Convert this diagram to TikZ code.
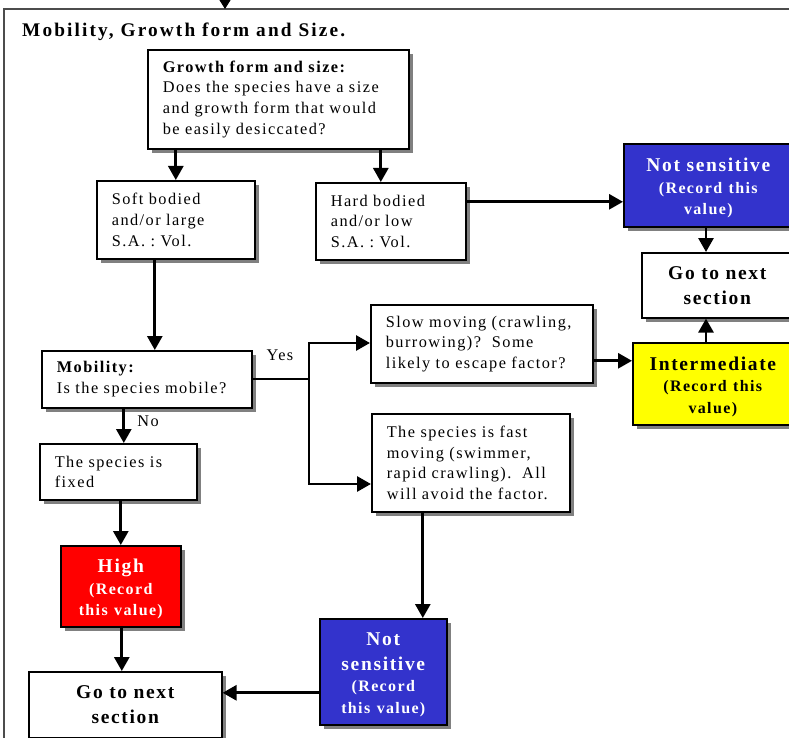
\documentclass[tikz,border=0pt]{standalone}
\usepackage{fontspec}
\setmainfont{Liberation Serif}[LetterSpace=9]
\newfontfamily\titlefam{Liberation Serif}[LetterSpace=11]
\newfontfamily\boldfam{Liberation Serif}[LetterSpace=8.5]
\usetikzlibrary{shadows,arrows.meta}

\newcommand\bodytext{\frenchspacing\fontsize{16.3}{20.6}\selectfont}
\newcommand\titletext{\titlefam\bfseries\fontsize{19.3}{22}\selectfont}
\newcommand\bigbold{\boldfam\bfseries\fontsize{19.5}{25}\selectfont}
\newcommand\smallbold{\boldfam\bfseries\fontsize{16}{21.5}\selectfont}
% closes a value box text and lowers the block a little inside its box
\newcommand\valueend{\par\kern-6pt}

\definecolor{nsblue}{RGB}{51,51,204}
\definecolor{highred}{RGB}{255,0,0}
\definecolor{midyellow}{RGB}{255,255,0}

\begin{document}
\begin{tikzpicture}[x=1pt,y=-1pt,
  shadowed/.style={drop shadow={shadow xshift=4pt,shadow yshift=-4pt,fill=black!50,opacity=1}},
  box/.style={draw=black,line width=1.6pt,shadowed,anchor=north west,inner ysep=0pt},
  textbox/.style={box,fill=white,align=left,inner xsep=15pt,font=\bodytext},
  valuebox/.style={box,align=center,inner xsep=0pt,font=\bigbold},
  arr/.style={line width=2.8pt,line join=miter,-{Triangle[length=14pt,width=15pt]}},
  link/.style={line width=2.8pt},
  lbl/.style={font=\bodytext,inner sep=0pt},
  frame/.style={draw=black!70,line width=1.2pt}
]
\useasboundingbox (0,0) rectangle (789,738);

% enclosing section frame and the arrow entering it
\draw[frame] (4,745) -- (4,9) -- (795,9);
\coordinate (entry) at (225,-4);
\coordinate (frameIn) at (225,9);
\draw[line width=1pt,-{Triangle[length=9pt,width=11pt]}] (entry) -- (frameIn);

\node[font=\titletext,anchor=base west,inner sep=0pt] (title) at (22,37) {Mobility, Growth form and Size.};

% question and outcome boxes
\node[textbox,text width=231pt,minimum width=261pt,minimum height=99pt] (growth) at (147,49)
  {\textbf{Growth form and size:}\\Does the species have a size\\and growth form that would\\be easily desiccated?};
\node[textbox,text width=128pt,minimum width=158pt,minimum height=78pt] (soft) at (96,180)
  {Soft bodied\\and/or large\\S.A. : Vol.};
\node[textbox,text width=120pt,minimum width=150pt,minimum height=77pt] (hard) at (315,182)
  {Hard bodied\\and/or low\\S.A. : Vol.};
\node[valuebox,fill=nsblue,text=white,text width=169pt,minimum height=83pt] (nstop) at (623,143)
  {Not sensitive\par\smallbold (Record this\\value)\valueend};
\node[valuebox,fill=white,text width=151pt,minimum height=65pt] (goR) at (641,252)
  {Go to next\\section\par};
\node[valuebox,fill=midyellow,text width=160pt,minimum height=82pt] (mid) at (632,342)
  {Intermediate\par\smallbold (Record this\\value)\valueend};
\node[textbox,text width=192pt,minimum width=222pt,minimum height=78pt] (slow) at (370,304)
  {Slow moving (crawling,\\burrowing)?\ \ Some\\likely to escape factor?};
\node[textbox,text width=180pt,minimum width=210pt,minimum height=57pt] (mob) at (41,350)
  {\textbf{Mobility:}\\Is the species mobile?};
\node[textbox,text width=168pt,minimum width=198pt,minimum height=98pt] (fast) at (371,413)
  {The species is fast\\moving (swimmer,\\rapid crawling).\ \ All\\will avoid the factor.};
\node[textbox,text width=127pt,minimum width=157pt,minimum height=56pt] (fixed) at (39,443)
  {The species is\\fixed};
\node[valuebox,fill=highred,text=white,text width=120pt,minimum height=81pt] (high) at (60,545)
  {High\par\smallbold (Record\\this value)\valueend};
\node[valuebox,fill=nsblue,text=white,text width=127pt,minimum height=106pt] (nsb) at (319,618)
  {Not\\sensitive\par\smallbold (Record\\this value)\valueend};
\node[valuebox,fill=white,text width=193pt,minimum height=66pt] (goL) at (28,671)
  {Go to next\\section\par};

% branch labels
\node[lbl] (yes) at (280,355) {Yes};
\node[lbl] (no) at (148,421) {No};

% connector end points that sit off the box centres
\coordinate (hardIn) at ([xshift=-10pt]hard.north);
\coordinate (mobIn) at ([xshift=8pt]mob.north);
\coordinate (nsIn) at ([yshift=-16.5pt]nstop.west);
\coordinate (slowOut) at ([yshift=-17pt]slow.east);
\coordinate (split) at (309,379);
\coordinate (splitTop) at (309,343);
\coordinate (splitBot) at (309,484);
\coordinate (fixIn) at ([xshift=5.5pt]fixed.north);
\coordinate (goIn) at ([xshift=-3.5pt]goL.north);
\coordinate (nsbIn) at ([xshift=39.5pt]nsb.north);
\coordinate (goSide) at ([yshift=12pt]goL.east);
\coordinate (rightLink) at (706,0);

% connectors
\draw[arr] (growth.south -| soft.north) -- (soft.north);
\draw[arr] (growth.south -| hardIn) -- (hardIn);
\draw[arr] (soft.south -| mobIn) -- (mobIn);
\draw[arr] (nsIn -| hard.east) -- (nsIn);
\draw[arr] (nstop.south -| rightLink) -- (goR.north -| rightLink);
\draw[arr] (mid.north -| rightLink) -- (goR.south -| rightLink);
\draw[arr] (slowOut) -- (slowOut -| mid.west);
\draw[link] (split -| mob.east) -- (split);
\draw[arr] (splitBot) -- (splitTop) -- (splitTop -| slow.west);
\draw[arr] (splitTop) -- (splitBot) -- (splitBot -| fast.west);
\draw[arr] (mob.south -| fixIn) -- (fixIn);
\draw[arr] (fixed.south -| high.north) -- (high.north);
\draw[arr] (high.south -| goIn) -- (goIn);
\draw[arr] (fast.south -| nsbIn) -- (nsbIn);
\draw[arr] (goSide -| nsb.west) -- (goSide);
\end{tikzpicture}
\end{document}
